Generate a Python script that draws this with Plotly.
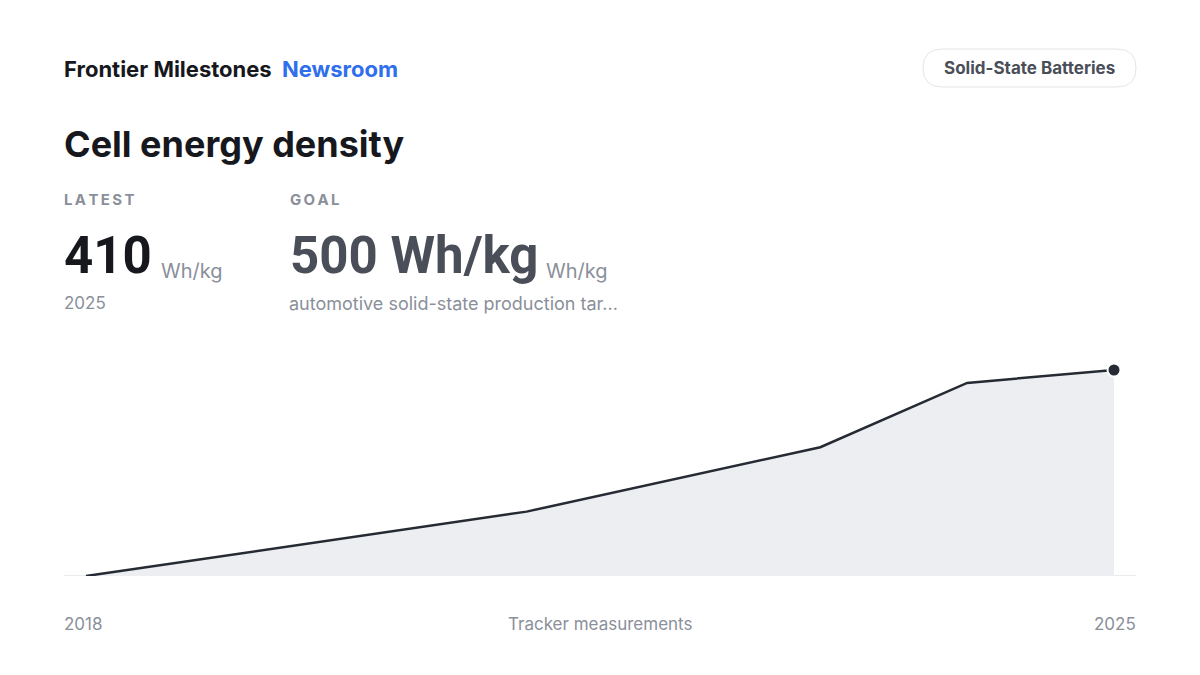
import plotly.graph_objects as go

years = [2018, 2021, 2023, 2024, 2025]
density = [250, 300, 350, 400, 410]
goal_value = 500
unit = "Wh/kg"
brand = "Frontier Milestones"
brand_accent = "Newsroom"
tag = "Solid-State Batteries"
title = "Cell energy density"
goal_note = "automotive solid-state production tar..."
footer_center = "Tracker measurements"

FONT = "Inter"
NUMFONT = "Roboto"
INK = "#16181d"
GRAY = "#8a8f9a"
LINE = "#262a33"
FILL = "#eceef2"

W, H = 1200, 675
L, R, T, B = 64, 64, 340, 99
plot_w = W - L - R
plot_h = H - T - B
pad_px = 22
span = years[-1] - years[0]
px_per_year = (plot_w - 2 * pad_px) / span
pad = pad_px / px_per_year

ymin = min(density)
px_per_unit = 206 / (density[-1] - ymin)
ymax = ymin + plot_h / px_per_unit

fig = go.Figure()
fig.add_trace(go.Scatter(
    x=years, y=density, mode="lines", fill="tozeroy",
    fillcolor=FILL, line=dict(color=LINE, width=2.5),
    hoverinfo="skip", showlegend=False))
fig.add_trace(go.Scatter(
    x=[years[-1]], y=[density[-1]], mode="markers",
    marker=dict(size=13, color=LINE, line=dict(color="white", width=2)),
    hoverinfo="skip", showlegend=False, cliponaxis=False))

fig.add_shape(type="line", xref="paper", yref="y", x0=0, x1=1, y0=ymin, y1=ymin,
              line=dict(color="#e3e5e9", width=1.5), layer="below")

def px(x):
    return (x - L) / plot_w

def py(y):
    return (H - B - y) / plot_h

ann = []
def add(text, x, y, size, color, xanchor="left", yanchor="middle", weight=None, family=FONT):
    t = f"<b>{text}</b>" if weight == "bold" else text
    xx = x - 2 if xanchor == "left" else (x + 2 if xanchor == "right" else x)
    ann.append(dict(text=t, x=px(xx), y=py(y), xref="paper", yref="paper",
                    xanchor=xanchor, yanchor=yanchor, showarrow=False,
                    font=dict(family=family, size=size, color=color)))

# header
add(brand, 64, 69, 22, INK, weight="bold")
add(brand_accent, 282, 69, 22, "#2f6fed", weight="bold")
# pill
fig.add_shape(type="path", xref="paper", yref="paper",
              path=("M {a},{b} L {c},{b} Q {d},{b} {d},{e} L {d},{f} Q {d},{g} {c},{g} "
                    "L {a},{g} Q {h},{g} {h},{f} L {h},{e} Q {h},{b} {a},{b} Z").format(
                  a=px(942), c=px(1117), d=px(1136), h=px(923),
                  b=py(49), g=py(87), e=py(68), f=py(68)),
              fillcolor="white", line=dict(color="#e3e5e9", width=1))
add(tag, 1029, 68, 17, "#4a4e58", xanchor="center", weight="bold")

add(title, 64, 144, 36, INK, weight="bold")

sp = "\u2009"
add(sp.join("LATEST"), 64, 199, 15, GRAY, weight="bold")
add(f"{density[-1]}", 64, 255, 51, INK, weight="bold", family=NUMFONT)
add(unit, 161, 271, 20, GRAY)
add(f"{years[-1]}", 64, 303, 17, GRAY)

add(sp.join("GOAL"), 290, 199, 15, GRAY, weight="bold")
add(f"{goal_value} {unit}", 290, 255, 51, "#4a4e58", weight="bold", family=NUMFONT)
add(unit, 546, 271, 20, GRAY)
add(goal_note, 289, 303, 18, GRAY)

add(str(years[0]), 64, 624, 17, GRAY)
add(footer_center, 600, 624, 17, GRAY, xanchor="center")
add(str(years[-1]), 1136, 624, 17, GRAY, xanchor="right")

fig.update_layout(
    width=W, height=H, margin=dict(l=L, r=R, t=T, b=B),
    paper_bgcolor="white", plot_bgcolor="white",
    annotations=ann,
    xaxis=dict(range=[years[0] - pad, years[-1] + pad], visible=False, fixedrange=True),
    yaxis=dict(range=[ymin, ymax], visible=False, fixedrange=True),
    font=dict(family=FONT),
)
fig.write_html("out.html", config={"displayModeBar": False},
               post_script="document.body.style.margin='0';")
